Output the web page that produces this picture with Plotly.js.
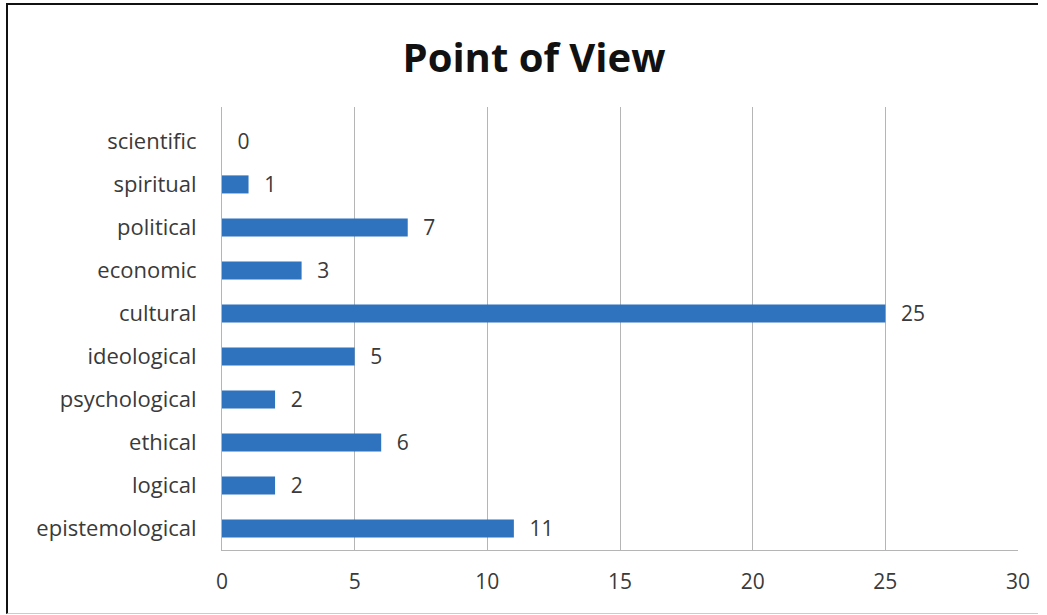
<!DOCTYPE html>
<html><head><meta charset="utf-8">
<script src="https://cdn.plot.ly/plotly-3.0.1.min.js"></script>
<style>
html,body{margin:0;padding:0;background:#fff;}
#frame{position:absolute;left:6px;top:3px;width:1030px;height:608px;border-top:2px solid #111;border-left:2px solid #111;border-bottom:1px solid #ccc;}
#chart{position:absolute;left:0;top:0;width:1047px;height:615px;}
</style></head>
<body>
<div id="frame"></div>
<div id="chart"></div>
<script>
const categories = ["epistemological","logical","ethical","psychological","ideological","cultural","economic","political","spiritual","scientific"];
const values = [11,2,6,2,5,25,3,7,1,0];
const xTicks = [0,5,10,15,20,25,30];

const FONT = "'Open Sans', Lato, sans-serif";
const trace = {
  type: "bar", orientation: "h",
  y: categories, x: values,
  text: values.map(v => "\u2002\u200a" + v), textposition: "outside", cliponaxis: false,
  constraintext: "none",
  textfont: {family: FONT, size: 21, color: "#3a3a3a"},
  marker: {color: "#2f72bd"},
  width: 0.42, hoverinfo: "none"
};
const layout = {
  width: 1047, height: 615,
  paper_bgcolor: "rgba(0,0,0,0)", plot_bgcolor: "rgba(0,0,0,0)",
  margin: {l: 222, r: 29, t: 107, b: 65},
  title: {text: "<b>Point of View</b>", x: 0.51, xanchor: "center", y: 0.905, yanchor: "middle",
          font: {family: FONT, size: 40, color: "#111"}},
  showlegend: false,
  xaxis: {range: [0, 30], tickvals: xTicks, showgrid: true, gridcolor: "#b5b5b5", gridwidth: 1,
          zeroline: false, showline: true, linecolor: "#b5b5b5", ticks: "", ticklabelstandoff: 13,
          tickfont: {family: FONT, size: 21, color: "#3a3a3a"}, fixedrange: true},
  yaxis: {type: "category", range: [-0.5, 9.8], showgrid: false, zeroline: false, showline: true,
          linecolor: "#b5b5b5", ticks: "", ticklabelstandoff: 20,
          tickfont: {family: FONT, size: 22, color: "#3a3a3a"}, fixedrange: true},
  bargap: 0.58
};
Plotly.newPlot("chart", [trace], layout, {displayModeBar: false, staticPlot: true});
</script>
</body></html>
